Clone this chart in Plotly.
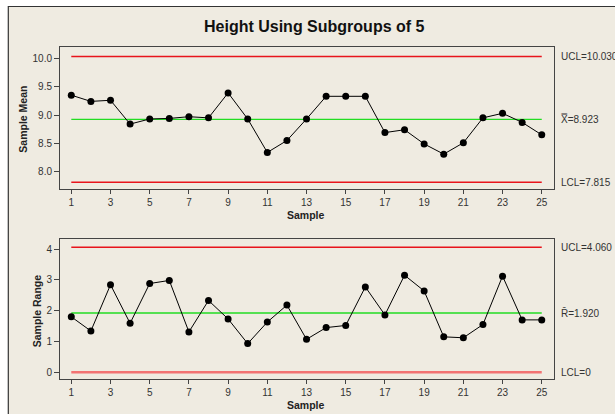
import plotly.graph_objects as go

samples = list(range(1, 26))
means = [9.35, 9.24, 9.26, 8.84, 8.93, 8.94, 8.97, 8.95, 9.39, 8.93,
         8.34, 8.55, 8.93, 9.33, 9.33, 9.33, 8.69, 8.74, 8.49, 8.31,
         8.51, 8.95, 9.03, 8.87, 8.65]
ranges = [1.80, 1.34, 2.84, 1.59, 2.88, 2.98, 1.31, 2.33, 1.73, 0.93,
          1.63, 2.18, 1.07, 1.45, 1.52, 2.77, 1.86, 3.15, 2.64, 1.15,
          1.12, 1.55, 3.12, 1.70, 1.70]
xbar_limits = {"UCL": 10.030, "CL": 8.923, "LCL": 7.815}
r_limits = {"UCL": 4.060, "CL": 1.920, "LCL": 0.0}
x_ticks = list(range(1, 26, 2))

W, H = 615, 414
def px(x): return x / W
def py(y): return 1 - y / H

fig = go.Figure()
x0, x1 = samples[0], samples[-1]

# top chart
fig.add_trace(go.Scatter(x=[x0, x1], y=[xbar_limits["UCL"]] * 2, mode="lines",
                         line=dict(color="#e8141c", width=1.5), xaxis="x", yaxis="y"))
fig.add_trace(go.Scatter(x=[x0, x1], y=[xbar_limits["LCL"]] * 2, mode="lines",
                         line=dict(color="#e8141c", width=1.5), xaxis="x", yaxis="y"))
fig.add_trace(go.Scatter(x=[x0, x1], y=[xbar_limits["CL"]] * 2, mode="lines",
                         line=dict(color="#22dd22", width=1.2), xaxis="x", yaxis="y"))
fig.add_trace(go.Scatter(x=samples, y=means, mode="lines+markers",
                         line=dict(color="black", width=1),
                         marker=dict(color="black", size=7), xaxis="x", yaxis="y"))

# bottom chart
fig.add_trace(go.Scatter(x=[x0, x1], y=[r_limits["UCL"]] * 2, mode="lines",
                         line=dict(color="#e8141c", width=1.5), xaxis="x2", yaxis="y2"))
fig.add_trace(go.Scatter(x=[x0, x1], y=[r_limits["LCL"]] * 2, mode="lines",
                         line=dict(color="#f27373", width=2.5), xaxis="x2", yaxis="y2"))
fig.add_trace(go.Scatter(x=[x0, x1], y=[r_limits["CL"]] * 2, mode="lines",
                         line=dict(color="#22dd22", width=1.5), xaxis="x2", yaxis="y2"))
fig.add_trace(go.Scatter(x=samples, y=ranges, mode="lines+markers",
                         line=dict(color="black", width=1),
                         marker=dict(color="black", size=7), xaxis="x2", yaxis="y2"))

tickfont = dict(family="Liberation Sans, Arial", size=10, color="#333333")
axcommon = dict(showline=True, linecolor="#444444", linewidth=1, mirror=True,
                ticks="outside", tickcolor="#444444", tickfont=tickfont,
                showgrid=False, zeroline=False, fixedrange=True)

XL, XR = px(60), px(554.3)
fig.update_layout(
    width=W, height=H,
    margin=dict(l=0, r=0, t=0, b=0),
    paper_bgcolor="white", plot_bgcolor="white",
    showlegend=False,
    xaxis=dict(domain=[XL, XR], range=[0.424, 25.64], tickvals=x_ticks,
               anchor="y", ticklen=4, **axcommon),
    yaxis=dict(domain=[py(189.3), py(47.3)], range=[7.69, 10.194],
               tickvals=[8.0, 8.5, 9.0, 9.5, 10.0], tickformat=".1f",
               anchor="x", ticklen=5, **axcommon),
    xaxis2=dict(domain=[XL, XR], range=[0.424, 25.64], tickvals=x_ticks,
                anchor="y2", ticklen=4, **axcommon),
    yaxis2=dict(domain=[py(379), py(239)], range=[-0.218, 4.325],
                tickvals=[0, 1, 2, 3, 4], anchor="x2", ticklen=5, **axcommon),
)

# beige frame
fig.add_shape(type="rect", xref="paper", yref="paper", layer="below",
              x0=px(8.3), x1=px(640), y0=py(440), y1=py(6.5),
              fillcolor="#efebe1", line=dict(color="#333333", width=1.2))

lblfont = dict(family="Liberation Sans, Arial", size=10, color="#333333")
boldfont = dict(family="Liberation Sans, Arial", size=10.5, color="#222222")

C = dict(xanchor="center", yanchor="middle", showarrow=False, xref="paper", yref="paper")
ann = [
    dict(text="<b>Height Using Subgroups of 5</b>", x=px(314), y=py(26),
         font=dict(family="Liberation Sans, Arial", size=16, color="#111111"), **C),
    dict(text="<b>Sample Mean</b>", x=px(22.7), y=py(119), textangle=-90, font=boldfont, **C),
    dict(text="<b>Sample Range</b>", x=px(37.3), y=py(311), textangle=-90, font=boldfont, **C),
    dict(text="<b>Sample</b>", x=px(305.6), y=py(214.5), font=boldfont, **C),
    dict(text="<b>Sample</b>", x=px(305.6), y=py(404.5), font=boldfont, **C),
]
right = [
    ("UCL=%.3f" % xbar_limits["UCL"], xbar_limits["UCL"], "y"),
    ("X\u033f=%.3f" % xbar_limits["CL"], xbar_limits["CL"], "y"),
    ("LCL=%.3f" % xbar_limits["LCL"], xbar_limits["LCL"], "y"),
    ("UCL=%.3f" % r_limits["UCL"], r_limits["UCL"], "y2"),
    ("R\u0304=%.3f" % r_limits["CL"], r_limits["CL"], "y2"),
    ("LCL=0", r_limits["LCL"], "y2"),
]
for t, v, yr in right:
    ann.append(dict(text=t, x=px(558.5), y=v, xref="paper", yref=yr, xanchor="left",
                    yanchor="middle", showarrow=False, font=lblfont))
fig.update_layout(annotations=ann)

fig.write_html("out.html", config={"displayModeBar": False},
               post_script="document.body.style.margin='0';document.body.style.overflow='hidden';")
